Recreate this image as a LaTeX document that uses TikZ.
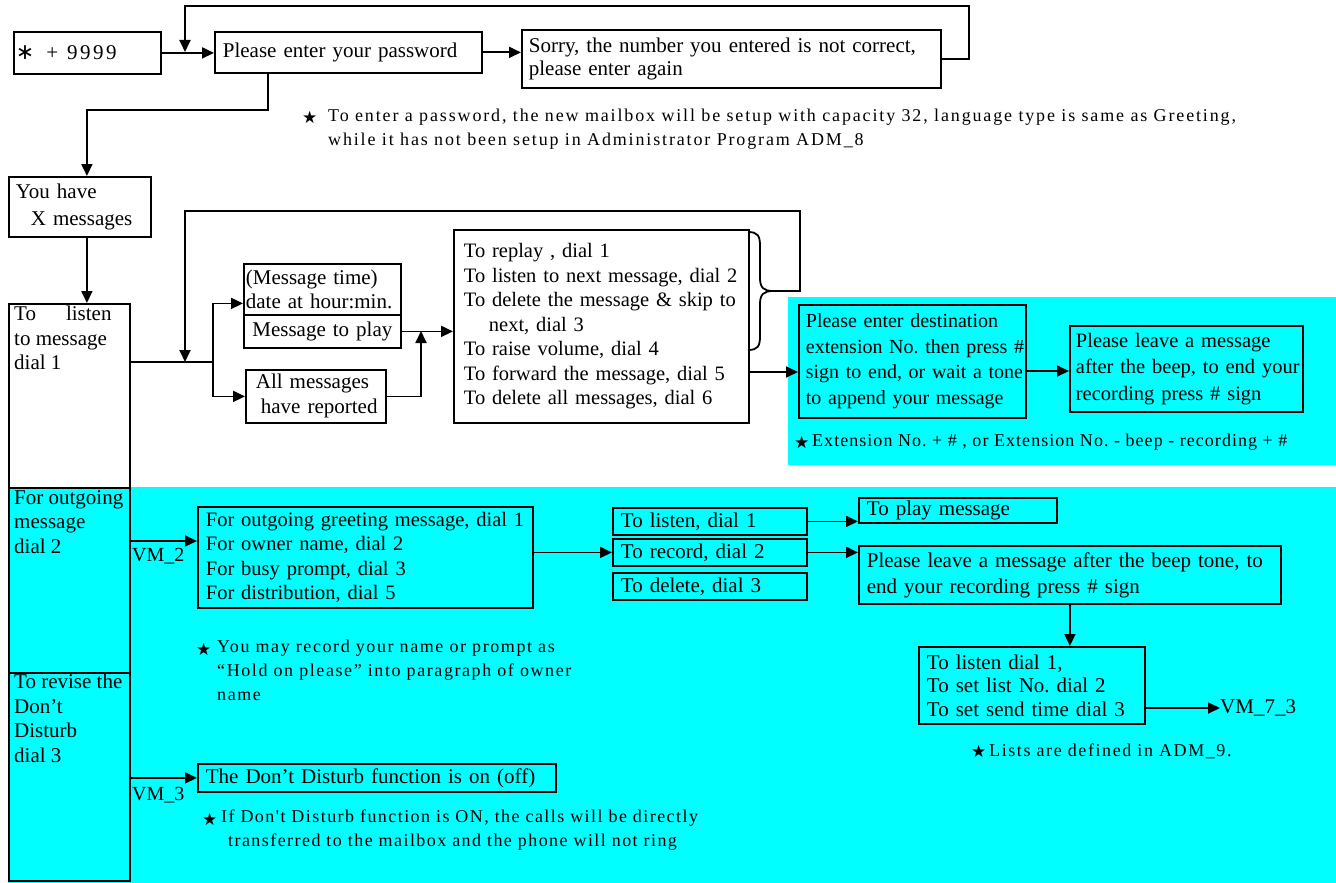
\documentclass[tikz,border=0pt]{standalone}
\usepackage{fontspec}
\setmainfont{Liberation Serif}
\newfontfamily\notef{Liberation Serif}[LetterSpace=8.8]
\newfontfamily\noteaf{Liberation Serif}[LetterSpace=10.3]
\newfontfamily\notebf{Liberation Serif}[LetterSpace=5.8]
\newfontfamily\notecf{Liberation Serif}[LetterSpace=8]
\newfontfamily\symf{DejaVu Sans}
\usetikzlibrary{arrows.meta,calc}
\definecolor{cy}{RGB}{0,255,255}
\frenchspacing
\newcommand\mf{\fontsize{21}{24.5}\selectfont}
\newcommand\nf{\notef\fontsize{18}{24}\selectfont}
\newcommand\st{{\symf\fontsize{17}{17}\selectfont ★}}
\newcommand\nb[1]{\mbox{#1}}
\tikzset{
  bx/.style={draw, line width=1.8pt, anchor=north west, align=left, inner ysep=0pt, font=\mf},
  tx/.style={anchor=north west, align=left, inner sep=0pt, font=\mf},
  nt/.style={anchor=north west, align=left, inner sep=0pt, font=\nf},
  sr/.style={anchor=west, inner sep=0pt},
  ln/.style={line width=1.8pt},
  arr/.style={line width=1.8pt, -{Triangle[length=12pt,width=11pt]}}
}
\begin{document}
\begin{tikzpicture}[x=1pt,y=-1pt]
\useasboundingbox (0,0) rectangle (1336,883);
\fill[cy] (788,297) rectangle (1336,465);
\fill[cy] (8,487) rectangle (1336,883);

% top row
\node[bx, minimum width=147pt, minimum height=42pt, inner xsep=2pt, text width=143pt] (A) at (13,31)
  {{\symf\fontsize{22}{22}\selectfont ∗}\hspace{12pt}+\hspace{9pt}9\kern2.5pt9\kern2.5pt9\kern2.5pt9};
\node[bx, minimum width=267pt, minimum height=41pt, inner xsep=8pt, text width=251pt] (B) at (214,31)
  {Please enter your password};
\node[bx, minimum width=419pt, minimum height=58pt, inner xsep=7pt, text width=405pt,
  font=\fontsize{21}{22.5}\selectfont] (S) at (521,29)
  {\nb{Sorry, the number you entered is not correct,}\\please enter again};
\node[sr] (n1s) at (302,117) {\st};
\node[nt, font=\noteaf\fontsize{18}{24}\selectfont] (n1) at (328,109)
  {\nb{To enter a password, the new mailbox will be setup with capacity 32, language type is same as Greeting,}\\
   while it has not been setup in Administrator Program ADM\_8};

\coordinate (tl) at (185,52);
\draw[arr] (A.east) -- (B.west |- A.east);
\draw[arr] (S.east) -- ++(27,0) |- (185,6) -- (tl);
\draw[arr] (B.east) -- (S.west |- B.east);

% left column
\node[bx, minimum width=142pt, minimum height=60pt, inner xsep=7pt, text width=128pt,
  font=\fontsize{21}{27}\selectfont] (C) at (8,176)
  {You have\\\hspace*{15pt}X messages};
\draw[arr] ([xshift=-80.5pt]B.south) -- ++(0,36) -| ([xshift=7pt]C.north);

\node[bx, minimum width=121pt, minimum height=184pt] (D) at (8,303) {};
\node[tx] (Dt) at (14,306) {To\hspace*{30pt}listen\\to message\\dial 1};
\draw[arr] ([xshift=7pt]C.south) -- ([xshift=7pt]C.south |- D.north);

\node[bx, fill=cy, minimum width=121pt, minimum height=185pt] (K) at (8,487) {};
\node[tx] (Kt) at (14,490) {For outgoing\\message\\dial 2};
\node[bx, fill=cy, minimum width=121pt, minimum height=208pt] (L) at (8,672) {};
\node[tx] (Lt) at (14,674) {To revise the\\Don’t\\Disturb\\dial 3};

% message branch
\node[bx, minimum width=157pt, minimum height=51pt, inner xsep=2pt, text width=153pt,
  font=\fontsize{21}{24}\selectfont] (E) at (243,263)
  {(Message time)\\date at hour:min.};
\node[bx, minimum width=157pt, minimum height=33pt, inner xsep=2pt, text width=153pt, align=center] (F) at (243,314)
  {Message to play};
\node[bx, minimum width=140pt, minimum height=53pt, inner xsep=4pt, text width=132pt,
  font=\fontsize{21}{25}\selectfont] (G) at (245,369)
  {\hspace*{6pt}All messages\\\hspace*{11pt}\nb{have reported}};
\node[bx, minimum width=295pt, minimum height=193pt, inner xsep=10pt, text width=275pt,
  font=\fontsize{20.5}{24.5}\selectfont] (H) at (453,229)
  {To replay , dial 1\\\nb{To listen to next message, dial 2}\\\nb{To delete the message \& skip to}\\
   \hspace*{25pt}next, dial 3\\To raise volume, dial 4\\\nb{To forward the message, dial 5}\\\nb{To delete all messages, dial 6}};

\coordinate (jx) at (213,362);
\coordinate (jl) at (185,362);
\coordinate (mj) at (421,331);
\draw[ln] (D.east |- jx) -- (jx);
\draw[arr] (jx) |- ([yshift=-14pt]E.west);
\draw[arr] (jx) |- (G.west);
\draw[arr] (F.east) -- (F.east -| H.west);
\draw[arr] (G.east) -| (mj);

% brace and loop
\coordinate (bt) at (773,291);
\draw[ln] (748,232) .. controls (758,232) and (760,236) .. (760,246) -- (760,278)
  .. controls (760,288) and (764,291) .. (bt)
  .. controls (764,291) and (760,294) .. (760,304) -- (760,336)
  .. controls (760,346) and (758,350) .. (748,350);
\draw[arr] (bt) -- (800,291) |- (185,211) -- (jl);

% forward branch
\node[bx, fill=cy, minimum width=227pt, minimum height=113pt, inner xsep=7pt, text width=213pt,
  font=\fontsize{20}{25.5}\selectfont] (I) at (798,304)
  {\nb{Please enter destination}\\\nb{extension No. then press \#}\\\nb{sign to end, or wait a tone}\\\nb{to append your message}};
\node[bx, fill=cy, minimum width=233pt, minimum height=86pt, inner xsep=6pt, text width=221pt,
  font=\fontsize{20.5}{26.5}\selectfont] (J) at (1069,325)
  {\nb{Please leave a message}\\\nb{after the beep, to end your}\\\nb{recording press \# sign}};
\draw[arr] (H.east |- 0,372) -- (I.west |- 0,372);
\draw[arr] (I.east |- 0,371) -- (J.west |- 0,371);
\node[sr] (n2s) at (794,442) {\st};
\node[sr, font=\notebf\fontsize{18}{24}\selectfont] (n2) at (812,442) {Extension No. + \# , or Extension No. - beep - recording + \#};

% outgoing branch
\node[bx, fill=cy, minimum width=335pt, minimum height=101pt, inner xsep=8pt, text width=319pt,
  font=\fontsize{20.5}{24.3}\selectfont] (M) at (197,506)
  {\nb{For outgoing greeting message, dial 1}\\For owner name, dial 2\\For busy prompt, dial 3\\For distribution, dial 5};
\node[sr, font=\fontsize{20}{20}\selectfont] (vm2) at (132,556) {VM\_2};
\draw[arr] (K.east |- 0,541) -- (M.west |- 0,541);
\node[sr] (n3s) at (196,649) {\st};
\node[nt] (n3) at (217,640)
  {You may record your name or prompt as\\\nb{“Hold on please” into paragraph of owner}\\name};

\node[bx, fill=cy, minimum width=194pt, minimum height=27pt, inner xsep=8pt, text width=178pt] (Li) at (612,507) {To listen, dial 1};
\node[bx, fill=cy, minimum width=194pt, minimum height=27pt, inner xsep=8pt, text width=178pt] (R) at (612,538) {To record, dial 2};
\node[bx, fill=cy, minimum width=194pt, minimum height=27pt, inner xsep=8pt, text width=178pt] (De) at (612,572) {To delete, dial 3};
\draw[arr] (M.east |- R.west) -- (R.west);

\node[bx, fill=cy, minimum width=198pt, minimum height=25pt, inner xsep=8pt, text width=182pt] (P) at (858,497) {To play message};
\node[bx, fill=cy, minimum width=422pt, minimum height=58pt, inner xsep=8pt, text width=406pt,
  font=\fontsize{21}{26}\selectfont] (Q) at (858,545)
  {\nb{Please leave a message after the beep tone, to}\\end your recording press \# sign};
\draw[arr] (Li.east) -- (P.west |- Li.east);
\draw[arr] (R.east) -- (Q.west |- R.east);

\node[bx, fill=cy, minimum width=226pt, minimum height=77pt, inner xsep=8pt, text width=210pt,
  font=\fontsize{21}{23.5}\selectfont] (T) at (918,646)
  {To listen dial 1,\\To set list No. dial 2\\\nb{To set send time dial 3}};
\draw[arr] (Q.south) -- (Q.south |- T.north);
\node[sr, font=\mf] (vm73) at (1220,708) {VM\_7\_3};
\draw[arr] (T.east |- vm73.west) -- (vm73.west);
\node[sr] (n4s) at (971,751) {\st};
\node[sr, font=\nf] (n4) at (989,751) {Lists are defined in ADM\_9.};

% don't disturb branch
\node[bx, fill=cy, minimum width=358pt, minimum height=28pt, inner xsep=8pt, text width=342pt] (N) at (197,763)
  {The Don’t Disturb function is on (off)};
\node[sr, font=\fontsize{20}{20}\selectfont] (vm3) at (132,795) {VM\_3};
\draw[arr] (L.east |- N.west) -- (N.west);
\node[sr] (n5s) at (202,819) {\st};
\node[nt, font=\notecf\fontsize{18}{24}\selectfont] (n5) at (221,810)
  {\nb{If Don't Disturb function is ON, the calls will be directly}\\\hspace*{7pt}\nb{transferred to the mailbox and the phone will not ring}};
\end{tikzpicture}
\end{document}
